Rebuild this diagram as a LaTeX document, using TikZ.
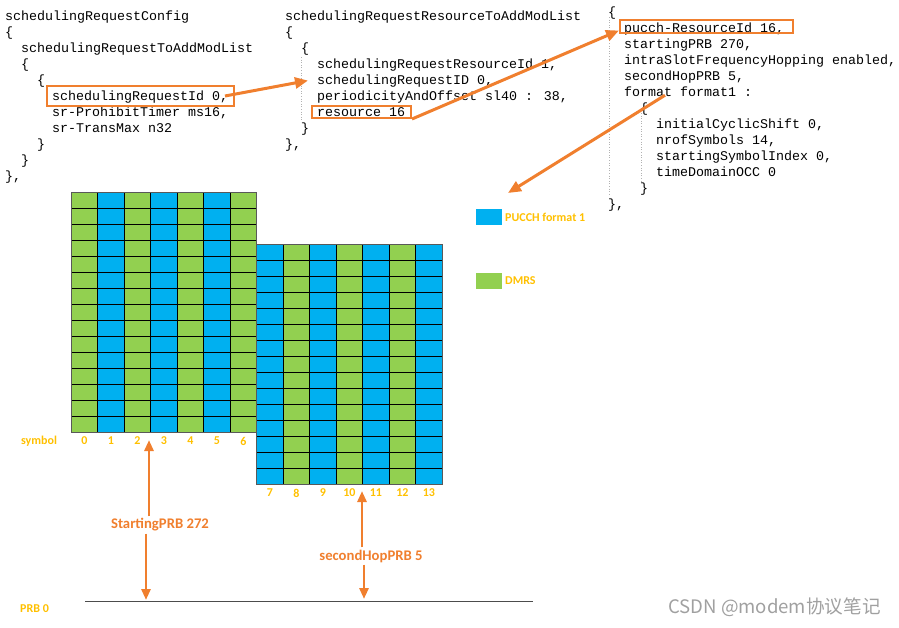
\documentclass[tikz,border=0pt]{standalone}
\usepackage{fontspec}
\setmainfont{Carlito}
\newfontfamily\codefont{Liberation Mono}
\newfontfamily\cjkfont{Noto Sans CJK SC}
\usetikzlibrary{arrows.meta}
\definecolor{pblue}{HTML}{00B0F0}
\definecolor{pgreen}{HTML}{92D050}
\definecolor{porange}{HTML}{F07F2E}
\definecolor{pgold}{HTML}{FFC000}
\definecolor{wmgray}{HTML}{A0A0A0}
\tikzset{
  code/.style={font=\codefont\fontsize{13.33}{16}\selectfont, anchor=base west, inner sep=0pt},
  obox/.style={draw=porange, line width=2pt, inner sep=0pt},
  oarrow/.style={draw=porange, line width=3pt, -{Triangle[length=13pt,width=11pt]}},
  varrow/.style={draw=porange, line width=2.8pt, -{Triangle[length=11pt,width=9pt]}},
  gold/.style={text=pgold, font=\bfseries\fontsize{12}{14}\selectfont, inner sep=0pt},
  olabel/.style={text=porange, font=\bfseries\fontsize{14.7}{16}\selectfont, inner sep=2pt},
  guide/.style={draw=gray!60, line width=0.6pt, dotted},
  gridline/.style={draw=black, line width=1.1pt},
  gridborder/.style={draw=gray!70!black, line width=1.4pt},
  legbox/.style={minimum width=26pt, minimum height=16pt, inner sep=0pt},
}
\begin{document}
\begin{tikzpicture}[x=1pt,y=-1pt]
\useasboundingbox (0,0) rectangle (899,627);

% ---------- left code block ----------
\node[code] (c1) at (5,20) {schedulingRequestConfig};
\node[code] (c2) at (5,36) {\{};
\node[code] (c3) at (21,52) {schedulingRequestToAddModList};
\node[code] (c4) at (21,68) {\{};
\node[code] (c5) at (37,84) {\{};
\node[code] (c6) at (52,100) {schedulingRequestId 0,};
\node[code] (c7) at (52,116) {sr-ProhibitTimer ms16,};
\node[code] (c8) at (52,132) {sr-TransMax n32};
\node[code] (c9) at (37,148) {\}};
\node[code] (c10) at (21,164) {\}};
\node[code] (c11) at (5,180) {\},};

% ---------- middle code block ----------
\draw[guide] (301,57) -- (301,122);
\node[code] (m1) at (285,20) {schedulingRequestResourceToAddModList};
\node[code] (m2) at (285,36) {\{};
\node[code] (m3) at (301,52) {\{};
\node[code] (m4) at (317,68) {schedulingRequestResourceId 1,};
\node[code] (m5) at (317,84) {schedulingRequestID 0,};
\node[code] (m6) at (317,100) {periodicityAndOffset sl40 : 38,};
\node[code] (m7) at (317,116) {resource 16};
\node[code] (m8) at (301,132) {\}};
\node[code] (m9) at (285,148) {\},};

% ---------- right code block ----------
\draw[guide] (609,17) -- (609,196);
\draw[guide] (641,113) -- (641,183);
\node[code] (r1) at (608,16) {\{};
\node[code] (r2) at (624,32) {pucch-ResourceId 16,};
\node[code] (r3) at (624,48) {startingPRB 270,};
\node[code] (r4) at (624,64) {intraSlotFrequencyHopping enabled,};
\node[code] (r5) at (624,80) {secondHopPRB 5,};
\node[code] (r6) at (624,96) {format format1 :};
\node[code] (r7) at (640,112) {\{};
\node[code] (r8) at (656,128) {initialCyclicShift 0,};
\node[code] (r9) at (656,144) {nrofSymbols 14,};
\node[code] (r10) at (656,160) {startingSymbolIndex 0,};
\node[code] (r11) at (656,176) {timeDomainOCC 0};
\node[code] (r12) at (640,192) {\}};
\node[code] (r13) at (608,208) {\},};

% ---------- highlight boxes ----------
\node[obox, minimum width=187pt, minimum height=20pt] (box1) at (140.5,96) {};
\node[obox, minimum width=99pt, minimum height=12pt] (box2) at (361.5,112) {};
\node[obox, minimum width=173pt, minimum height=13pt] (box3) at (706.5,26.5) {};

% ---------- orange arrows between code ----------
\coordinate (t3) at (508,193);
\draw[oarrow] ([xshift=-10pt]box1.east) -- ([xshift=-9pt]m5.west);
\draw[oarrow] (box2.south east) -- ([yshift=-4pt]box3.west);
\draw[oarrow] ([shift={(41pt,-4pt)}]r6.west) -- (t3);

% ---------- resource grid, first hop (symbols 0-6) ----------
\foreach \i in {0,...,6}{
  \ifodd\i \def\cc{pblue}\else\def\cc{pgreen}\fi
  \fill[\cc] ({71.2+26.5*\i},192.3) rectangle ++(26.5,240);
}
\foreach \i in {0,...,7}{\draw[gridline] ({71.2+26.5*\i},192.3) -- ++(0,240);}
\foreach \j in {0,...,15}{\draw[gridline] (71.2,{192.3+16*\j}) -- ++(185.5,0);}
\draw[gridborder] (71.2,192.3) rectangle ++(185.5,240);

% ---------- resource grid, second hop (symbols 7-13) ----------
\foreach \i in {7,...,13}{
  \ifodd\i \def\cc{pblue}\else\def\cc{pgreen}\fi
  \fill[\cc] ({256.7+26.5*(\i-7)},244.7) rectangle ++(26.5,240);
}
\foreach \i in {0,...,7}{\draw[gridline] ({256.7+26.5*\i},244.7) -- ++(0,240);}
\foreach \j in {0,...,15}{\draw[gridline] (256.7,{244.7+16*\j}) -- ++(185.5,0);}
\draw[gridborder] (256.7,244.7) rectangle ++(185.5,240);

% ---------- symbol labels ----------
\node[gold] (symlab) at (39,441) {symbol};
\foreach \i in {0,...,6}{\node[gold] (s\i) at ({71.2+26.5*(\i+0.5)},441) {\i};}
\foreach \i in {7,...,13}{\node[gold] (s\i) at ({256.7+26.5*(\i-6.5)},493) {\i};}

% ---------- legend ----------
\node[legbox, fill=pblue] (lgb) at (489,216.5) {};
\node[gold, anchor=west] (lgbt) at (505,217) {PUCCH format 1};
\node[legbox, fill=pgreen] (lgg) at (489,280.5) {};
\node[gold, anchor=west] (lggt) at (505,281) {DMRS};

% ---------- PRB arrows ----------
\node[olabel] (sp) at (160,525) {StartingPRB 272};
\coordinate (spup) at (149,440);
\coordinate (spdn) at (146,600);
\draw[varrow] (spup |- sp.north) -- (spup);
\draw[varrow] (spdn |- sp.south) -- (spdn);

\node[olabel] (sh) at (371,556) {secondHopPRB 5};
\coordinate (shup) at (362,491);
\coordinate (shdn) at (364,599);
\draw[varrow] (shup |- sh.north) -- (shup);
\draw[varrow] (shdn |- sh.south) -- (shdn);

% ---------- PRB 0 baseline ----------
\draw[draw=gray!60!black, line width=1pt] (85,601) -- (533,601);
\node[gold, anchor=west] (prb0) at (20,609) {PRB 0};

% ---------- watermark ----------
\node[anchor=west, inner sep=0pt, text=wmgray, font=\cjkfont\fontsize{18.6}{19}\selectfont] (wm) at (668,607) {CSDN @modem协议笔记};
\end{tikzpicture}
\end{document}
